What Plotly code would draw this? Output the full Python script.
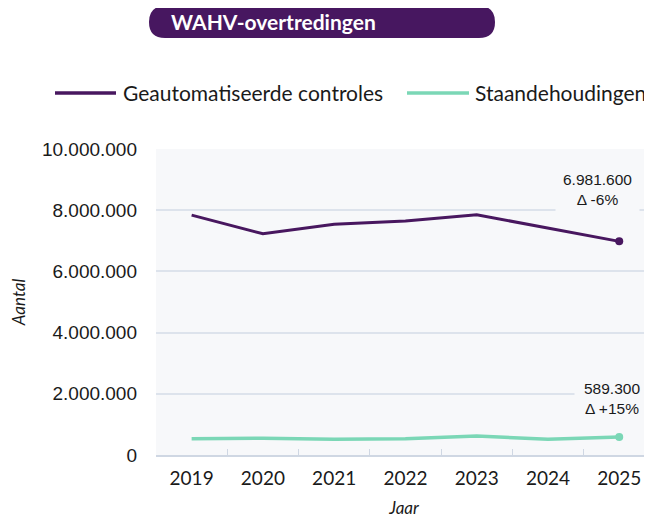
import plotly.graph_objects as go

years = ["2019", "2020", "2021", "2022", "2023", "2024", "2025"]
geautomatiseerd = [7840000, 7230000, 7540000, 7650000, 7850000, 7427000, 6981600]
staandehoudingen = [535000, 550000, 512000, 530000, 625000, 512400, 589300]
series_names = ["Geautomatiseerde controles", "Staandehoudingen"]
y_ticks = [0, 2000000, 4000000, 6000000, 8000000, 10000000]

PURPLE = "#48175f"
TEAL = "#7bd7b6"
GRID = "#dde3ec"
AXIS = "#cfd7e3"
BG = "#f7f8fa"
TXT = "#1a1a1a"
OFF = 8  # page body margin
W, H = 644, 510
L, R, T, B = 148, 0, 141, 63
PW, PH = W - L - R, H - T - B


def fmt(v):
    return f"{v:,.0f}".replace(",", ".")


def delta(vals):
    d = round((vals[-1] / vals[-2] - 1) * 100)
    return f"Δ {d:+d}%"


# page pixel -> paper
def px(x):
    return (x - OFF - L) / PW


def py(y):
    return (H - B - (y - OFF)) / PH


fig = go.Figure()
for name, vals, col, wd in [(series_names[0], geautomatiseerd, PURPLE, 3),
                            (series_names[1], staandehoudingen, TEAL, 3.5)]:
    fig.add_trace(go.Scatter(x=years, y=vals, name=name, mode="lines",
                             line=dict(color=col, width=wd), showlegend=False))
for vals, col in [(geautomatiseerd, PURPLE), (staandehoudingen, TEAL)]:
    fig.add_trace(go.Scatter(x=years[-1:], y=vals[-1:], mode="markers",
                             marker=dict(color=col, size=8), showlegend=False,
                             hoverinfo="skip"))

last = len(years) - 1
ann_font = dict(family="Liberation Sans, Arial, sans-serif", size=15.5, color=TXT)
fig.add_annotation(x=last, y=geautomatiseerd[-1], xref="x", yref="y",
                   text=f"{fmt(geautomatiseerd[-1])}<br>{delta(geautomatiseerd)}",
                   showarrow=False, xanchor="center", yanchor="middle",
                   xshift=-22, yshift=52, bgcolor=BG, borderpad=7, font=ann_font)
fig.add_annotation(x=last, y=staandehoudingen[-1], xref="x", yref="y",
                   text=f"{fmt(staandehoudingen[-1])}<br>{delta(staandehoudingen)}",
                   showarrow=False, xanchor="center", yanchor="middle",
                   xshift=-7, yshift=38, bgcolor=BG, borderpad=9, font=ann_font)

# title pill
x0, x1, y0, y1, r = 149, 495, 6, 38, 16
path = (f"M {px(x0 + r)},{py(y0)} L {px(x1 - r)},{py(y0)} "
        f"Q {px(x1)},{py(y0)} {px(x1)},{py(y0 + r)} "
        f"Q {px(x1)},{py(y1)} {px(x1 - r)},{py(y1)} "
        f"L {px(x0 + r)},{py(y1)} "
        f"Q {px(x0)},{py(y1)} {px(x0)},{py(y1 - r)} "
        f"Q {px(x0)},{py(y0)} {px(x0 + r)},{py(y0)} Z")
fig.add_shape(type="path", path=path, xref="paper", yref="paper",
              fillcolor="#471760", line=dict(width=0), layer="above")
fig.add_annotation(x=px(169), y=py(22), xref="paper", yref="paper",
                   xanchor="left", yanchor="middle", showarrow=False,
                   text="<b>WAHV-overtredingen</b>",
                   font=dict(family="Lato, sans-serif", size=21, color="white"))

# legend (manual, for exact placement)
legend_items = [(series_names[0], PURPLE, 55, 116, 121),
                (series_names[1], TEAL, 407, 469, 473)]
for name, col, lx0, lx1, tx in legend_items:
    fig.add_shape(type="line", xref="paper", yref="paper",
                  x0=px(lx0), x1=px(lx1), y0=py(93), y1=py(93),
                  line=dict(color=col, width=3.5))
    fig.add_annotation(x=px(tx), y=py(92), xref="paper", yref="paper",
                       xanchor="left", yanchor="middle", showarrow=False,
                       text=name,
                       font=dict(family="Lato, sans-serif", size=21, color=TXT))

fig.update_layout(
    width=W, height=H,
    margin=dict(l=L, r=R, t=T, b=B, pad=0),
    paper_bgcolor="white", plot_bgcolor=BG,
    separators=",.",
    font=dict(family="Lato, sans-serif", size=18, color=TXT),
    showlegend=False,
    xaxis=dict(type="category", range=[-0.5, 6.46], tickson="boundaries",
               ticks="inside", ticklen=6, tickcolor=AXIS, showline=True,
               linecolor=AXIS, linewidth=1.5, showgrid=False,
               ticklabelstandoff=5,
               tickfont=dict(family="Lato, sans-serif", size=19, color=TXT),
               title=dict(text="<i>Jaar</i>", standoff=17,
                          font=dict(family="Lato, sans-serif", size=17))),
    yaxis=dict(range=[0, 10000000], tickvals=y_ticks,
               ticktext=[fmt(v) for v in y_ticks], showgrid=True,
               gridcolor=GRID, gridwidth=1.5, zeroline=False, showline=False,
               ticks="", ticklabelstandoff=18,
               tickfont=dict(family="Liberation Sans, Arial, sans-serif", size=19,
                             color=TXT),
               title=dict(text="<i>Aantal</i>", standoff=12,
                          font=dict(family="Lato, sans-serif", size=17))),
)

fig.write_html("out.html")
